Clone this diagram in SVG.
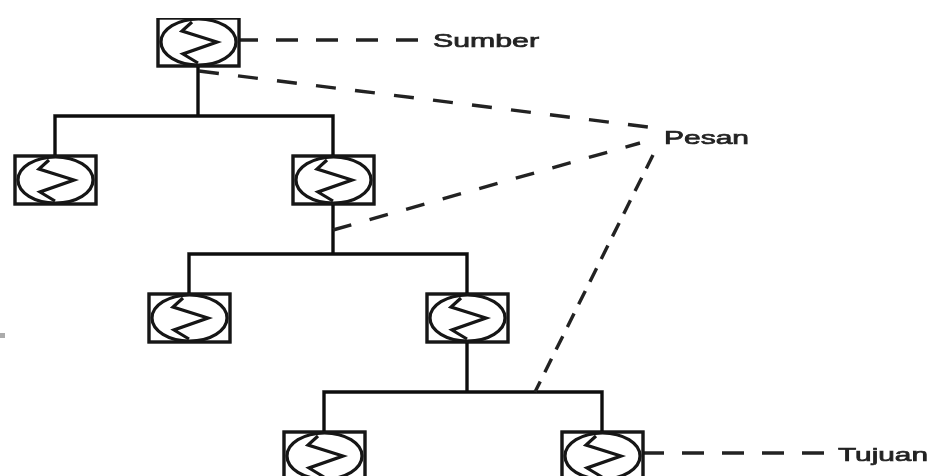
<svg xmlns="http://www.w3.org/2000/svg" width="931" height="476" viewBox="0 0 931 476">
<style>
.box{fill:#fff;stroke:#141414;stroke-width:3.400}
.orb{fill:#fff;stroke:#141414;stroke-width:3.200}
.zig{fill:none;stroke:#141414;stroke-width:3.200}
.solid{fill:none;stroke:#0c0c0c;stroke-width:3.400}
.dash{fill:none;stroke:#222;stroke-width:3.400}
text{font-family:"Liberation Sans",Arial,sans-serif;font-size:19px;fill:#222;stroke:#222;stroke-width:.7}
</style>
<defs>
<filter id="soft" x="0" y="0" width="100%" height="100%"><feGaussianBlur stdDeviation="0.6"/></filter>
<g id="sym">
<rect class="box" x="0" y="0" width="81" height="48"/>
<ellipse class="orb" cx="40.500" cy="24" rx="37.500" ry="23"/>
<polyline class="zig" points="34,4 24,13 59,24 25,36 40,45"/>
</g>
</defs>
<rect width="931" height="476" fill="#fff"/>
<g filter="url(#soft)">
<g id="connectors">
<path class="solid" d="M198 66V116M55 155V116H333V155M333 204V254M189 293V254H467V293M467 342V392M324 431V392H602V431"/>
<path class="dash" stroke-dasharray="22 18" d="M236 40H420"/>
<path class="dash" stroke-dasharray="20 19.300" d="M199 71L648 127"/>
<path class="dash" stroke-dasharray="19 19" d="M333 230L640 143"/>
<path class="dash" stroke-dasharray="15 10.300" d="M653 155L535 392"/>
<path class="dash" stroke-dasharray="22 18" d="M642 453H826"/>
</g>
<g id="node-sumber"><use href="#sym" x="158" y="18"/></g>
<g id="node-2"><use href="#sym" x="15" y="156"/></g>
<g id="node-3"><use href="#sym" x="293" y="156"/></g>
<g id="node-4"><use href="#sym" x="149" y="294"/></g>
<g id="node-5"><use href="#sym" x="427" y="294"/></g>
<g id="node-6"><use href="#sym" x="284" y="432"/></g>
<g id="node-tujuan"><use href="#sym" x="562" y="432"/></g>
<g id="labels">
<text x="433" y="47" textLength="106" lengthAdjust="spacingAndGlyphs">Sumber</text>
<text x="664" y="144" textLength="85" lengthAdjust="spacingAndGlyphs">Pesan</text>
<text x="838" y="461" textLength="90" lengthAdjust="spacingAndGlyphs">Tujuan</text>
</g>
<rect x="0" y="333" width="5" height="5" fill="#888" opacity=".7"/>
</g>
</svg>
